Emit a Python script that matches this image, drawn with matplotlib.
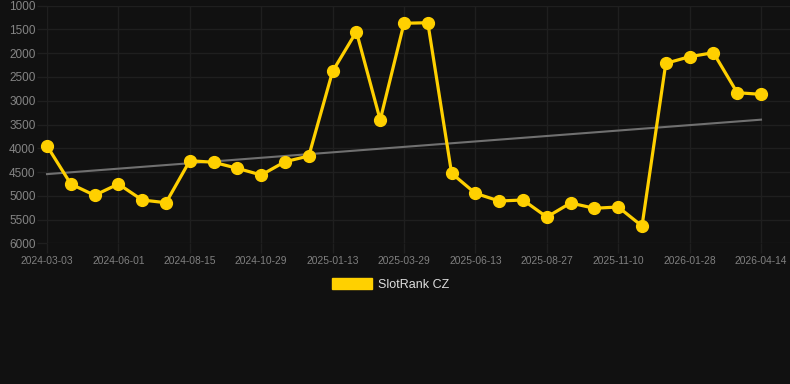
import numpy as np
import matplotlib.pyplot as plt
from matplotlib.patches import Patch

# values (rank, lower is better)
dates = ['2024-03-03', '2024-03-25', '2024-04-16', '2024-06-01', '2024-06-20', '2024-07-15',
         '2024-08-15', '2024-09-05', '2024-10-01', '2024-10-29', '2024-11-20', '2024-12-15',
         '2025-01-13', '2025-02-05', '2025-03-01', '2025-03-29', '2025-04-20', '2025-05-15',
         '2025-06-13', '2025-07-05', '2025-07-30', '2025-08-27', '2025-09-20', '2025-10-15',
         '2025-11-10', '2025-12-05', '2026-01-01', '2026-01-28', '2026-02-20', '2026-03-15',
         '2026-04-14']
ranks = [3950, 4752, 4990, 4752, 5089, 5146, 4262, 4295, 4422, 4563, 4283, 4163,
         2381, 1547, 3405, 1370, 1358, 4527, 4948, 5110, 5089, 5447, 5152, 5263,
         5236, 5636, 2213, 2073, 1989, 2831, 2865]
y_ticks = [1000, 1500, 2000, 2500, 3000, 3500, 4000, 4500, 5000, 5500, 6000]
label_step = 3
series_name = 'SlotRank CZ'

bg = '#111111'
grid_col = '#1f1f1f'
yellow = '#FFD000'

plt.rcParams['font.family'] = ['Liberation Sans', 'DejaVu Sans']

fig = plt.figure(figsize=(7.9, 3.84), dpi=100, facecolor=bg)
# plot area runs to the right edge, last point sits a bit inside it
ax = fig.add_axes([47 / 790, (384 - 243.3) / 384, 743 / 790, 237.6 / 384])
ax.set_facecolor(bg)

x = np.arange(len(ranks))

# linear trend
k, b = np.polyfit(x, ranks, 1)
ax.plot(x, k * x + b, color='#707070', lw=1.5, zorder=2, clip_on=False)

ax.plot(x, ranks, color=yellow, lw=2.3, marker='o', markersize=8.5,
        zorder=3, clip_on=False)

step_px = 714 / (len(ranks) - 1)
ax.set_xlim(0, (len(ranks) - 1) + 29 / step_px)
ax.set_ylim(6000, 1000)
ax.set_yticks(y_ticks)
ax.set_yticklabels([str(v) for v in y_ticks])
ax.set_xticks(x[::label_step])
ax.set_xticklabels(dates[::label_step])

ax.grid(True, color=grid_col, lw=1)
ax.set_axisbelow(True)
for s in ax.spines.values():
    s.set_visible(False)
ax.tick_params(axis='y', colors=grid_col, labelcolor='#858585', labelsize=8.5,
               length=7.2, width=1, pad=1)
ax.tick_params(axis='x', colors=grid_col, labelcolor='#808080', labelsize=7.4,
               length=7, width=1, pad=2)

fig.legend(handles=[Patch(color=yellow)], labels=[series_name],
           loc='center', bbox_to_anchor=(0.494, 0.26), frameon=False,
           handlelength=3.2, handleheight=0.95, handletextpad=0.5,
           fontsize=9, labelcolor='#dddddd')

fig.savefig('out.png', dpi=100, facecolor=bg)
